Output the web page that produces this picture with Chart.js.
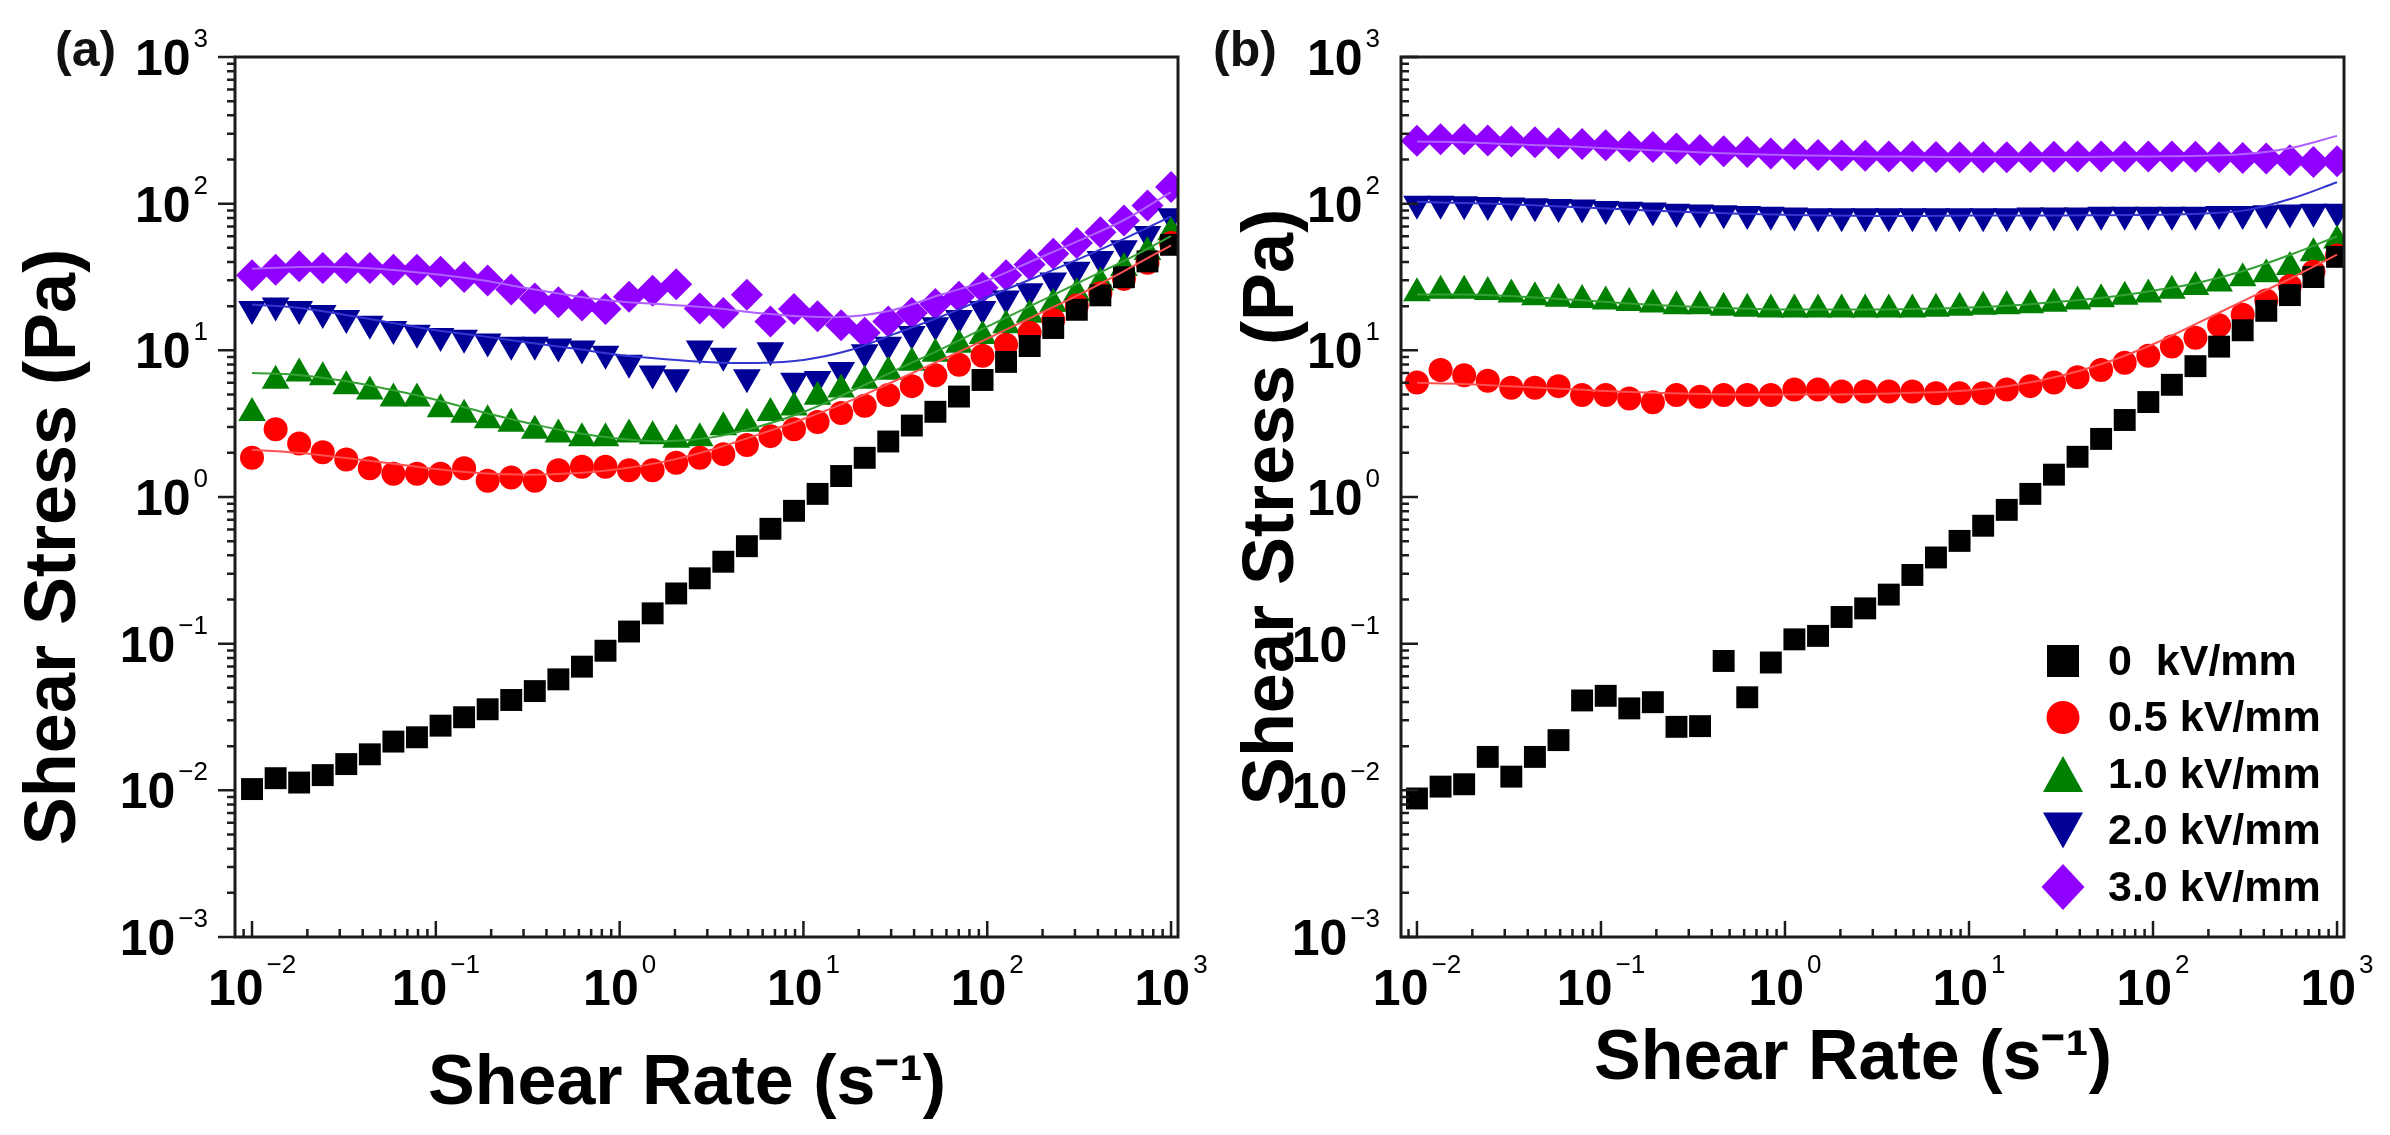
<!DOCTYPE html>
<html>
<head>
<meta charset="utf-8">
<script src="https://cdn.jsdelivr.net/npm/chart.js@4.4.1/dist/chart.umd.min.js"></script>
<style>
  html, body { margin: 0; padding: 0; background: #fff; }
  body { width: 2390px; height: 1135px; position: relative; overflow: hidden; }
  .panel { position: absolute; top: 0; height: 1135px; }
  #wrapA { left: 0; width: 1240px; z-index: 1; }
  #wrapB { left: 1195px; width: 1195px; z-index: 2; }
  .tag { position: absolute; z-index: 3; top: 20px; line-height: 54px; font: bold 50px 'Liberation Sans', Arial, sans-serif; color: #111; }
</style>
</head>
<body>
<div class="panel" id="wrapA"><canvas id="chartA"></canvas></div>
<div class="panel" id="wrapB"><canvas id="chartB"></canvas></div>
<div class="tag" style="left:55px">(a)</div>
<div class="tag" style="left:1213px">(b)</div>
<script>
// shear rate steps, s^-1 (40 log steps, same for both panels)
const shearRate = [0.01, 0.01344, 0.01805, 0.02425, 0.03257, 0.04375, 0.05878, 0.07896,
  0.1061, 0.1425, 0.1914, 0.2572, 0.3455, 0.4642, 0.6236, 0.8377,
  1.125, 1.512, 2.031, 2.728, 3.665, 4.924, 6.614, 8.886,
  11.94, 16.04, 21.54, 28.94, 38.88, 52.23, 70.17, 94.28,
  126.6, 170.1, 228.6, 307.1, 412.5, 554.2, 744.5, 1000];
// rates where the fitted curves are sampled
const fitRate = [0.01, 0.0178, 0.0316, 0.0562, 0.1, 0.178, 0.316, 0.562, 1, 1.78, 3.16,
  5.62, 10, 17.8, 31.6, 56.2, 100, 178, 316, 562, 1000];

const fieldLabels = ['0  kV/mm', '0.5 kV/mm', '1.0 kV/mm', '2.0 kV/mm', '3.0 kV/mm'];

// (a) shear stress, Pa
const stressA0 = [0.0102, 0.0121, 0.0113, 0.0127, 0.0151, 0.0176, 0.0215, 0.0230, 0.0276, 0.0315,
  0.0357, 0.0413, 0.0475, 0.0571, 0.0697, 0.0895, 0.121, 0.161, 0.220, 0.279,
  0.362, 0.462, 0.607, 0.805, 1.05, 1.39, 1.85, 2.39, 3.07, 3.81,
  4.84, 6.28, 8.34, 10.7, 14.2, 18.9, 23.7, 31.5, 40.4, 52.4];
const stressA05 = [1.85, 2.90, 2.32, 2.02, 1.80, 1.57, 1.44, 1.44, 1.44, 1.57,
  1.29, 1.36, 1.29, 1.52, 1.61, 1.61, 1.52, 1.52, 1.71, 1.85,
  1.96, 2.26, 2.60, 2.90, 3.25, 3.74, 4.19, 4.96, 5.70, 6.75,
  7.98, 9.19, 10.9, 13.2, 16.1, 20.2, 24.5, 30.7, 39.6, 54.0];
const stressA1 = [3.74, 6.21, 6.94, 6.56, 5.70, 5.24, 4.69, 4.69, 3.96, 3.64,
  3.34, 3.16, 2.83, 2.67, 2.52, 2.52, 2.67, 2.60, 2.46, 2.52,
  2.99, 3.16, 3.74, 4.07, 4.82, 5.40, 6.21, 7.14, 8.22, 9.46,
  10.9, 12.5, 14.8, 17.5, 20.7, 24.5, 29.0, 36.4, 46.9, 63.9];
const stressA2 = [19.1, 20.2, 19.1, 18.0, 16.6, 15.2, 14.0, 13.2, 12.5, 12.2,
  11.5, 10.9, 10.9, 10.6, 10.3, 9.46, 8.22, 6.94, 6.56, 10.3,
  9.19, 6.56, 10.0, 6.21, 6.38, 7.35, 9.72, 10.9, 12.9, 14.8,
  16.6, 19.1, 22.6, 25.3, 29.9, 35.4, 41.9, 49.6, 62.1, 82.2];
const stressA3 = [32.5, 35.4, 37.4, 36.4, 36.4, 36.4, 35.4, 35.4, 34.4, 31.6,
  29.9, 26.0, 22.6, 21.3, 20.2, 19.1, 23.2, 25.5, 28.2, 19.3,
  18.0, 23.9, 15.7, 19.1, 17.1, 14.8, 13.2, 15.7, 18.0, 20.7,
  23.2, 26.7, 32.5, 38.5, 45.6, 54.0, 63.9, 76.8, 97.2, 130];

// (a) fitted curves
const fitA05 = [2.1, 2.0, 1.85, 1.7, 1.55, 1.45, 1.42, 1.45, 1.55, 1.75, 2.1, 2.65, 3.4, 4.5, 6.2, 8.6, 12, 17, 24, 35, 52];
const fitA1 = [7.0, 6.8, 6.2, 5.4, 4.6, 3.8, 3.2, 2.75, 2.5, 2.4, 2.55, 3.0, 3.8, 5.2, 7.3, 10.2, 14.5, 20.5, 29, 41, 60];
const fitA2 = [20.5, 19.5, 17.5, 15.5, 13.7, 12.5, 11.3, 10.3, 9.3, 8.7, 8.3, 8.2, 8.6, 10, 13, 17, 23, 31, 42, 58, 82];
const fitA3 = [36, 37, 37, 35.5, 33, 30, 26.5, 23.5, 21.5, 20.5, 19.5, 18, 17, 17, 19, 24, 30, 41, 56, 78, 120];

// (b) shear stress, Pa
const stressB0 = [0.0088, 0.0106, 0.0110, 0.0169, 0.0124, 0.0169, 0.0220, 0.0410, 0.0441, 0.0362,
  0.0399, 0.0271, 0.0274, 0.0762, 0.0431, 0.0744, 0.107, 0.113, 0.152, 0.174,
  0.216, 0.294, 0.387, 0.502, 0.637, 0.817, 1.05, 1.42, 1.88, 2.49,
  3.35, 4.44, 5.82, 7.80, 10.6, 13.7, 18.6, 23.8, 31.6, 43.4];
const stressB05 = [6.03, 7.35, 6.75, 6.21, 5.55, 5.55, 5.70, 4.96, 4.96, 4.69,
  4.43, 4.96, 4.82, 4.96, 4.96, 4.96, 5.40, 5.40, 5.24, 5.24,
  5.24, 5.24, 5.10, 5.10, 5.10, 5.40, 5.70, 6.03, 6.56, 7.35,
  8.22, 9.19, 10.6, 12.2, 14.8, 17.5, 21.9, 27.5, 34.4, 44.3];
const stressB1 = [24.5, 25.5, 25.5, 25, 24, 23, 22.5, 22, 21.5, 21,
  20.5, 20, 20, 19.5, 19.2, 19, 19, 19, 19, 19,
  19, 19, 19.2, 19.5, 19.8, 20, 20.3, 20.8, 21.5, 22.3,
  23.2, 24, 25.5, 27, 28.6, 31, 33, 37, 46, 56];
const stressB2 = [100, 100, 99, 98, 97, 96, 95, 94, 92, 91,
  90, 88, 87, 86, 85, 84, 83, 82, 82, 82,
  82, 82, 82, 82, 82, 82, 83, 83, 83, 84,
  84, 84, 84, 84, 85, 85, 86, 87, 88, 88];
const stressB3 = [268, 275, 275, 270, 265, 262, 258, 255, 250, 245,
  243, 238, 232, 228, 225, 220, 218, 215, 213, 212,
  210, 210, 208, 207, 207, 207, 208, 209, 210, 210,
  210, 210, 210, 209, 207, 205, 203, 198, 192, 195];

// (b) fitted curves
const fitB05 = [6.0, 5.9, 5.7, 5.5, 5.3, 5.15, 5.05, 5.0, 5.0, 5.0, 5.05, 5.15, 5.35, 5.8, 6.7, 8.3, 11, 15.5, 22, 31, 45];
const fitB1 = [24, 24, 23.5, 22.5, 21.5, 20.5, 19.8, 19.3, 19, 19, 19, 19.2, 19.6, 20.3, 21.5, 23, 25.5, 29, 35, 45, 60];
const fitB2 = [103, 101, 99, 96, 93, 90, 87.5, 85.5, 84, 83, 82.5, 82.5, 83, 83, 83, 83.5, 84, 85.5, 90, 108, 140];
const fitB3 = [265, 262, 255, 248, 240, 232, 225, 219, 215, 212, 210, 209, 208, 208, 208, 209, 210, 212, 218, 240, 290];

// decades shown on the axes
const xTickPowers = [-2, -1, 0, 1, 2, 3];
const yTickPowers = [-3, -2, -1, 0, 1, 2, 3];

const fontFamily = "'Liberation Sans', Arial, Helvetica, sans-serif";
const axisColor = '#1c1c1c';
const markerColors = ['#000000', '#ff0000', '#008000', '#000096', '#8f00ff'];
const fitColors = ['#ff5050', '#35a035', '#3535d0', '#b060ff'];
const markerShapes = [
  { style: 'rect', rotation: 0, radius: 15.5 },
  { style: 'circle', rotation: 0, radius: 12 },
  { style: 'triangle', rotation: 0, radius: 16 },
  { style: 'triangle', rotation: 180, radius: 16 },
  { style: 'rectRot', rotation: 0, radius: 16 }
];

function pairs(xs, ys) {
  return ys.map((y, i) => ({ x: xs[i], y: y }));
}

function supText(p) {
  return p < 0 ? '\u2212' + (-p) : String(p);
}

// draws "10" with a raised exponent; anchor is the baseline of "10"
function drawPower(ctx, p, x, y, align, supRise) {
  const sup = supText(p);
  ctx.font = 'bold 50px ' + fontFamily;
  const wb = ctx.measureText('10').width;
  ctx.font = '26px ' + fontFamily;
  const ws = ctx.measureText(sup).width;
  const total = wb + 3 + ws;
  const x0 = align === 'center' ? x - total / 2 : x - total;
  ctx.textAlign = 'left';
  ctx.textBaseline = 'alphabetic';
  ctx.font = 'bold 50px ' + fontFamily;
  ctx.fillText('10', x0, y);
  ctx.font = '26px ' + fontFamily;
  ctx.fillText(sup, x0 + wb + 3, y - supRise);
}

function legendMarker(ctx, k, x, y) {
  ctx.fillStyle = markerColors[k];
  ctx.beginPath();
  if (k === 0) {
    ctx.rect(x - 16, y - 16, 32, 32);
  } else if (k === 1) {
    ctx.arc(x, y, 16.5, 0, Math.PI * 2);
  } else if (k === 2) {
    ctx.moveTo(x, y - 18); ctx.lineTo(x + 20, y + 18); ctx.lineTo(x - 20, y + 18);
  } else if (k === 3) {
    ctx.moveTo(x - 20, y - 18); ctx.lineTo(x + 20, y - 18); ctx.lineTo(x, y + 18);
  } else {
    ctx.moveTo(x, y - 23); ctx.lineTo(x + 21.5, y); ctx.lineTo(x, y + 23); ctx.lineTo(x - 21.5, y);
  }
  ctx.closePath();
  ctx.fill();
}

// frame, log ticks (major + minor), power-of-ten labels, legend
const logAxes = {
  id: 'logAxes',
  afterDraw(chart, args, opts) {
    const { ctx, chartArea: ca, scales: { x, y } } = chart;
    ctx.save();
    ctx.strokeStyle = axisColor;
    ctx.lineWidth = 3;
    ctx.strokeRect(ca.left, ca.top, ca.right - ca.left, ca.bottom - ca.top);

    ctx.lineWidth = 2.5;
    ctx.beginPath();
    for (let p = -3; p <= 3; p++) {
      for (let d = 1; d <= 9; d++) {
        const v = d * Math.pow(10, p);
        if (v >= x.min && v <= x.max) {
          const px = x.getPixelForValue(v);
          const len = d === 1 ? 16 : 8;
          ctx.moveTo(px, ca.bottom);
          ctx.lineTo(px, ca.bottom - len);
        }
        if (v >= y.min && v <= y.max) {
          const py = y.getPixelForValue(v);
          const len = (d === 1 ? 17 : 8) * (opts.yTicksOut ? -1 : 1);
          ctx.moveTo(ca.left, py);
          ctx.lineTo(ca.left + len, py);
        }
      }
    }
    ctx.stroke();

    ctx.fillStyle = '#000';
    x.ticks.forEach(t => {
      const p = Math.round(Math.log10(t.value));
      drawPower(ctx, p, x.getPixelForValue(t.value), ca.bottom + 68, 'center', 32);
    });
    y.ticks.forEach(t => {
      const p = Math.round(Math.log10(t.value));
      drawPower(ctx, p, ca.left - opts.labelGap, y.getPixelForValue(t.value) + 18, 'right', 28);
    });

    if (opts.legend) {
      const mx = ca.right - 281;
      const tx = ca.right - 236;
      fieldLabels.forEach((lab, k) => {
        const yy = ca.bottom - 276 + k * 56.5;
        legendMarker(ctx, k, mx, yy);
        ctx.fillStyle = '#000';
        ctx.font = 'bold 43px ' + fontFamily;
        ctx.textAlign = 'left';
        ctx.textBaseline = 'middle';
        ctx.fillText(lab, tx, yy + 2);
      });
    }
    ctx.restore();
  }
};

function makeChart(id, marks, fits, cfg) {
  const datasets = [];
  fits.forEach((ys, k) => {
    datasets.push({
      label: 'fit ' + fieldLabels[k + 1],
      data: pairs(fitRate, ys),
      showLine: true,
      borderColor: fitColors[k],
      borderWidth: 2,
      pointRadius: 0,
      tension: 0.35,
      fill: false,
      order: 0
    });
  });
  marks.forEach((ys, k) => {
    datasets.push({
      label: fieldLabels[k],
      data: pairs(shearRate, ys),
      showLine: false,
      pointStyle: markerShapes[k].style,
      pointRotation: markerShapes[k].rotation,
      pointRadius: markerShapes[k].radius,
      pointBackgroundColor: markerColors[k],
      pointBorderColor: markerColors[k],
      pointBorderWidth: 0,
      backgroundColor: markerColors[k],
      borderColor: markerColors[k],
      order: k + 1
    });
  });

  return new Chart(document.getElementById(id), {
    type: 'line',
    data: { datasets: datasets },
    options: {
      responsive: true,
      maintainAspectRatio: false,
      animation: false,
      events: [],
      layout: { padding: { top: 57, right: cfg.rightPad, left: 0, bottom: 0 } },
      plugins: {
        legend: { display: false },
        tooltip: { enabled: false },
        logAxes: { yTicksOut: cfg.yTicksOut, labelGap: cfg.labelGap, legend: cfg.legend }
      },
      scales: {
        x: {
          type: 'logarithmic',
          min: cfg.xMin,
          max: 1091,
          grid: { display: false },
          border: { display: false },
          ticks: { display: false },
          afterBuildTicks: s => { s.ticks = xTickPowers.map(p => ({ value: Math.pow(10, p) })); },
          afterFit: s => { s.height = 198; },
          title: {
            display: true,
            // trailing spaces nudge the centred title a little to the left
            text: 'Shear Rate (s\u207B\u00B9)  ',
            color: '#000',
            font: { family: fontFamily, size: 70, weight: 'bold' },
            padding: { top: 0, bottom: cfg.xTitlePad }
          }
        },
        y: {
          type: 'logarithmic',
          min: 0.001,
          max: 1000,
          grid: { display: false },
          border: { display: false },
          ticks: { display: false },
          afterBuildTicks: s => { s.ticks = yTickPowers.map(p => ({ value: Math.pow(10, p) })); },
          afterFit: s => { s.width = cfg.yWidth; },
          title: {
            display: true,
            text: 'Shear Stress (Pa)' + ' '.repeat(cfg.yTitleShift),
            color: '#000',
            font: { family: fontFamily, size: 72, weight: 'bold' },
            padding: { top: cfg.yTitlePad, bottom: 0 }
          }
        }
      }
    },
    plugins: [logAxes]
  });
}

makeChart('chartA',
  [stressA0, stressA05, stressA1, stressA2, stressA3],
  [fitA05, fitA1, fitA2, fitA3],
  { xMin: 0.00808, rightPad: 62, yWidth: 235, yTicksOut: true, labelGap: 27, legend: false,
    xTitlePad: 8, yTitlePad: 12, yTitleShift: 5 });

makeChart('chartB',
  [stressB0, stressB05, stressB1, stressB2, stressB3],
  [fitB05, fitB1, fitB2, fitB3],
  { xMin: 0.00819, rightPad: 46, yWidth: 206, yTicksOut: false, labelGap: 21, legend: true,
    xTitlePad: 33, yTitlePad: 35, yTitleShift: 1 });
</script>
</body>
</html>
